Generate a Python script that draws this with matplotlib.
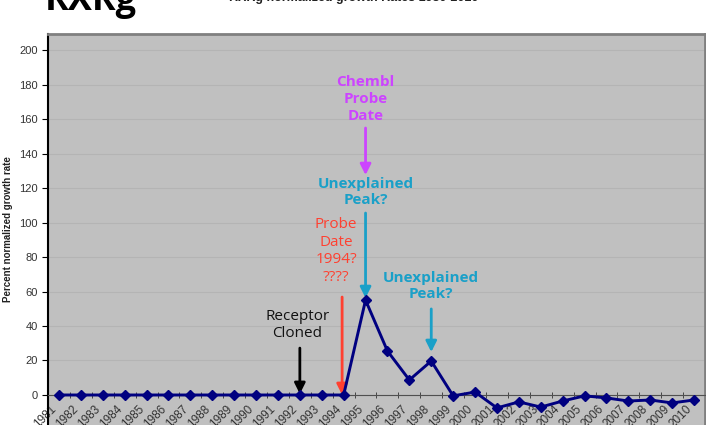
import matplotlib.pyplot as plt

years = list(range(1981, 2011))
growth = [0, 0, 0, 0, 0, 0, 0, 0, 0, 0, 0, 0, 0, 0,
          55, 25.5, 8.7, 19.7, -0.5, 1.7, -7.5, -4, -7, -3.5,
          -0.5, -1.7, -3.5, -2.9, -4.6, -2.9]
year_labels = [str(y) for y in years]

plt.rcParams['font.family'] = ['Liberation Sans', 'DejaVu Sans']

fig = plt.figure(figsize=(7.06, 4.25), dpi=100)
ax = fig.add_axes([48 / 706, 0, 657 / 706, 391 / 425])
ax.set_facecolor("#c0c0c0")

x = list(range(len(years)))
ax.plot(x, growth, color="#000080", lw=2.1, marker="D", ms=5, zorder=5)

ax.set_xlim(-0.5, len(years) - 0.5)
ax.set_ylim(-17.4, 209.3)
ax.set_yticks(range(0, 201, 20))
ax.yaxis.grid(True, color="#b4b4b4", lw=0.8)
ax.set_axisbelow(True)

# category axis crossing at zero, labels next to it
ax.spines['bottom'].set_position(('data', 0))
ax.spines['bottom'].set_color("#505050")
ax.spines['top'].set_color("#808080")
ax.spines['top'].set_linewidth(2)
ax.spines['right'].set_color("#808080")
ax.spines['right'].set_linewidth(2)
ax.spines['left'].set_color("black")
ax.spines['left'].set_linewidth(1.5)
ax.set_xticks(x)
ax.set_xticklabels(year_labels, rotation=45, ha="right", fontsize=8.5, color="#333333")
ax.tick_params(axis="x", length=0, pad=6)
ax.set_xticks([i - 0.5 for i in x], minor=True)
ax.tick_params(axis="x", which="minor", length=5, direction="inout", color="#303030")
ax.tick_params(axis="y", length=4, labelsize=8, labelcolor="#333333")

ax.set_ylabel("Percent normalized growth rate", fontsize=7, fontweight="bold", labelpad=4,
              color="#222222")

magenta = "#cc44ff"
teal = "#1aa0c8"
red = "#ff4030"
arrow = dict(arrowstyle="-|>", lw=2, mutation_scale=16, shrinkA=0, shrinkB=0)

ax.text(14, 171.6, "Chembl\nProbe\nDate", color=magenta, fontsize=11, fontweight="bold",
        family="Open Sans", ha="center", va="center", linespacing=1.25)
ax.annotate("", xy=(14, 127.5), xytext=(14, 154.8), arrowprops=dict(arrow, color=magenta))

ax.text(14, 117.7, "Unexplained\nPeak?", color=teal, fontsize=11, fontweight="bold",
        family="Open Sans", ha="center", va="center", linespacing=1.25)
ax.annotate("", xy=(14, 56.2), xytext=(14, 105.5), arrowprops=dict(arrow, color=teal))

ax.text(12.65, 83.5, "Probe\nDate\n1994?\n????", color=red, fontsize=11,
        family="Open Sans", ha="center", va="center", linespacing=1.25)
ax.annotate("", xy=(12.93, 0), xytext=(12.93, 56.8), arrowprops=dict(arrow, color=red))

ax.text(10.88, 40.6, "Receptor\nCloned", color="#111111", fontsize=11,
        family="Open Sans", ha="center", va="center", linespacing=1.25)
ax.annotate("", xy=(11, 0.6), xytext=(11, 27.2), arrowprops=dict(arrow, color="black"))

ax.text(17, 63.2, "Unexplained\nPeak?", color=teal, fontsize=11, fontweight="bold",
        family="Open Sans", ha="center", va="center", linespacing=1.25)
ax.annotate("", xy=(17, 24.9), xytext=(17, 49.9), arrowprops=dict(arrow, color=teal))

fig.text(45 / 706, 1.0 - 10 / 425, "RXRg", fontsize=26, fontweight="bold", ha="left",
         va="baseline", family="Open Sans")
fig.text(354 / 706, 1.0 - 0.5 / 425, "RXRg normalized growth Rates 1980-2010", fontsize=9,
         fontweight="bold", ha="center", va="baseline", color="#222222")

fig.savefig("out.png", dpi=100)
